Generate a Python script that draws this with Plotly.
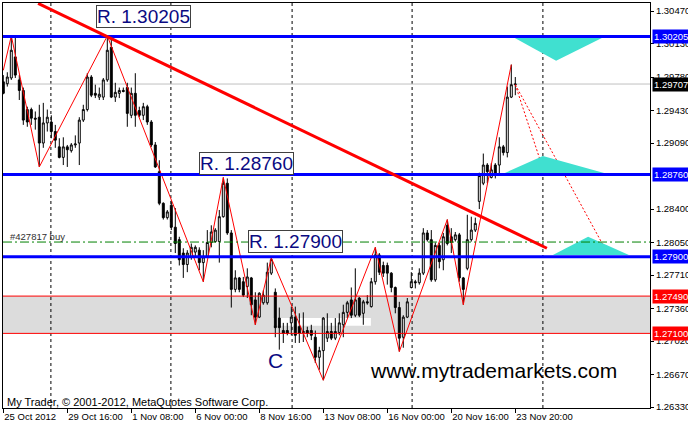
import plotly.graph_objects as go

# ---------------- data ----------------
bars = list(range(129))
open_ = [1.2973, 1.2971, 1.2977, 1.2999, 1.2975, 1.2964, 1.2944, 1.2944, 1.2935, 1.2936,
         1.2909, 1.2930, 1.2931, 1.2921, 1.2905, 1.2894, 1.2905, 1.2901, 1.2907, 1.2909,
         1.2933, 1.2944, 1.2978, 1.2961, 1.2957, 1.2957, 1.2975, 1.3009, 1.2957, 1.2961,
         1.2964, 1.2967, 1.2938, 1.2961, 1.2943, 1.2938, 1.2947, 1.2931, 1.2907, 1.2879,
         1.2846, 1.2831, 1.2844, 1.2821, 1.2808, 1.2794, 1.2782, 1.2790, 1.2795, 1.2797,
         1.2784, 1.2790, 1.2805, 1.2806, 1.2806, 1.2832, 1.2867, 1.2815, 1.2756, 1.2768,
         1.2764, 1.2759, 1.2768, 1.2745, 1.2727, 1.2742, 1.2742, 1.2773, 1.2753, 1.2726,
         1.2713, 1.2713, 1.2721, 1.2727, 1.2717, 1.2712, 1.2713, 1.2713, 1.2706, 1.2685,
         1.2692, 1.2705, 1.2712, 1.2705, 1.2711, 1.2719, 1.2732, 1.2745, 1.2729, 1.2747,
         1.2731, 1.2743, 1.2738, 1.2764, 1.2792, 1.2781, 1.2781, 1.2773, 1.2758, 1.2737,
         1.2706, 1.2727, 1.2758, 1.2764, 1.2763, 1.2773, 1.2815, 1.2808, 1.2766, 1.2802,
         1.2787, 1.2823, 1.2811, 1.2808, 1.2813, 1.2768, 1.2778, 1.2808, 1.2818, 1.2848,
         1.2867, 1.2886, 1.2873, 1.2886, 1.2886, 1.2905, 1.2899, 1.2957, 1.2970]
high = [1.2980, 1.2983, 1.3021, 1.3019, 1.2980, 1.2967, 1.2947, 1.2946, 1.2942, 1.2949,
        1.2951, 1.2944, 1.2938, 1.2928, 1.2914, 1.2915, 1.2907, 1.2909, 1.2917, 1.2936,
        1.2949, 1.2982, 1.2980, 1.2970, 1.2967, 1.2977, 1.3021, 1.3019, 1.2972, 1.2967,
        1.2967, 1.2972, 1.2967, 1.2982, 1.2947, 1.2951, 1.2949, 1.2933, 1.2910, 1.2891,
        1.2847, 1.2839, 1.2849, 1.2841, 1.2811, 1.2799, 1.2797, 1.2804, 1.2802, 1.2800,
        1.2797, 1.2818, 1.2823, 1.2820, 1.2839, 1.2873, 1.2872, 1.2818, 1.2776, 1.2769,
        1.2769, 1.2778, 1.2769, 1.2753, 1.2753, 1.2755, 1.2784, 1.2789, 1.2757, 1.2737,
        1.2721, 1.2721, 1.2738, 1.2738, 1.2731, 1.2732, 1.2717, 1.2719, 1.2713, 1.2696,
        1.2727, 1.2731, 1.2721, 1.2726, 1.2731, 1.2740, 1.2744, 1.2758, 1.2778, 1.2748,
        1.2745, 1.2750, 1.2768, 1.2800, 1.2794, 1.2785, 1.2784, 1.2774, 1.2759, 1.2743,
        1.2729, 1.2747, 1.2774, 1.2766, 1.2778, 1.2820, 1.2818, 1.2818, 1.2805, 1.2805,
        1.2815, 1.2829, 1.2820, 1.2816, 1.2815, 1.2769, 1.2834, 1.2832, 1.2831, 1.2878,
        1.2898, 1.2888, 1.2888, 1.2888, 1.2915, 1.2907, 1.2968, 1.2991, 1.2978]
low = [1.2960, 1.2968, 1.2975, 1.2977, 1.2954, 1.2928, 1.2926, 1.2928, 1.2923, 1.2884,
       1.2904, 1.2921, 1.2914, 1.2904, 1.2893, 1.2886, 1.2884, 1.2899, 1.2904, 1.2886,
       1.2931, 1.2942, 1.2957, 1.2956, 1.2954, 1.2954, 1.2973, 1.2956, 1.2952, 1.2956,
       1.2962, 1.2926, 1.2935, 1.2926, 1.2936, 1.2933, 1.2928, 1.2905, 1.2883, 1.2844,
       1.2829, 1.2829, 1.2818, 1.2794, 1.2781, 1.2768, 1.2774, 1.2787, 1.2789, 1.2776,
       1.2764, 1.2789, 1.2800, 1.2805, 1.2784, 1.2831, 1.2813, 1.2737, 1.2753, 1.2753,
       1.2748, 1.2747, 1.2729, 1.2719, 1.2726, 1.2740, 1.2740, 1.2771, 1.2706, 1.2693,
       1.2700, 1.2708, 1.2708, 1.2700, 1.2700, 1.2701, 1.2706, 1.2703, 1.2679, 1.2672,
       1.2661, 1.2701, 1.2703, 1.2703, 1.2708, 1.2706, 1.2726, 1.2726, 1.2727, 1.2727,
       1.2719, 1.2740, 1.2737, 1.2761, 1.2771, 1.2769, 1.2761, 1.2753, 1.2731, 1.2691,
       1.2695, 1.2726, 1.2757, 1.2757, 1.2761, 1.2771, 1.2806, 1.2764, 1.2764, 1.2778,
       1.2776, 1.2802, 1.2794, 1.2806, 1.2764, 1.2740, 1.2776, 1.2806, 1.2816, 1.2840,
       1.2865, 1.2867, 1.2872, 1.2872, 1.2876, 1.2896, 1.2894, 1.2956, 1.2959]
close = [1.2961, 1.2978, 1.3006, 1.2980, 1.2964, 1.2933, 1.2931, 1.2935, 1.2934, 1.2909,
         1.2930, 1.2936, 1.2921, 1.2912, 1.2894, 1.2905, 1.2902, 1.2907, 1.2908, 1.2933,
         1.2944, 1.2978, 1.2959, 1.2959, 1.2960, 1.2975, 1.3006, 1.2957, 1.2962, 1.2964,
         1.2963, 1.2940, 1.2961, 1.2938, 1.2938, 1.2947, 1.2931, 1.2907, 1.2884, 1.2846,
         1.2831, 1.2837, 1.2821, 1.2804, 1.2787, 1.2782, 1.2794, 1.2800, 1.2800, 1.2784,
         1.2790, 1.2805, 1.2816, 1.2818, 1.2832, 1.2867, 1.2815, 1.2756, 1.2768, 1.2756,
         1.2750, 1.2769, 1.2740, 1.2727, 1.2752, 1.2750, 1.2774, 1.2787, 1.2716, 1.2716,
         1.2710, 1.2710, 1.2727, 1.2708, 1.2710, 1.2711, 1.2710, 1.2708, 1.2685, 1.2692,
         1.2726, 1.2712, 1.2705, 1.2712, 1.2721, 1.2732, 1.2742, 1.2729, 1.2745, 1.2729,
         1.2743, 1.2742, 1.2764, 1.2792, 1.2774, 1.2773, 1.2773, 1.2758, 1.2737, 1.2705,
         1.2727, 1.2743, 1.2764, 1.2763, 1.2773, 1.2815, 1.2808, 1.2766, 1.2802, 1.2785,
         1.2811, 1.2804, 1.2805, 1.2813, 1.2768, 1.2756, 1.2808, 1.2818, 1.2825, 1.2875,
         1.2886, 1.2879, 1.2881, 1.2876, 1.2905, 1.2899, 1.2957, 1.2970, 1.29707]

x_tick_bars = [0, 16, 32, 48, 64, 80, 96, 112, 128]
x_tick_labels = ["25 Oct 2012", "29 Oct 16:00", "1 Nov 08:00", "6 Nov 00:00", "8 Nov 16:00",
                 "13 Nov 08:00", "16 Nov 00:00", "20 Nov 16:00", "23 Nov 20:00"]
y_tick_vals = [1.30470, 1.30130, 1.29780, 1.29430, 1.29090, 1.28400, 1.28050,
               1.27710, 1.27360, 1.27020, 1.26670, 1.26330]

separator_bars = [11.9, 41.9, 72.2, 102.2, 134.9]

resistance_levels = [1.30205, 1.28760, 1.27900]
resistance_labels = ["R. 1.30205", "R. 1.28760", "R. 1.27900"]
zone_levels = [1.27490, 1.27100]
bid_price = 1.29707
order_price = 1.28055
order_label = "#427817 buy"

zigzag_bars = [0, 2, 9, 26, 50, 55, 63, 67, 80, 93, 99, 111, 115, 127]
zigzag_prices = [1.2985, 1.3021, 1.2884, 1.3021, 1.2764, 1.2873, 1.2719, 1.2789,
                 1.2661, 1.2800, 1.2691, 1.2829, 1.2740, 1.2991]

trend_bars = [8.7, 135.9]
trend_prices = [1.3055, 1.2799]

proj_a_bars = [128, 135.4]
proj_a_prices = [1.2970, 1.2876]
proj_b_bars = [128, 150.9]
proj_b_prices = [1.2970, 1.2795]

tri1_bars = [127.2, 150.4, 138.2]
tri1_prices = [1.30205, 1.30205, 1.2995]
tri2_bars = [123.7, 152.9, 134.9]
tri2_prices = [1.28746, 1.28746, 1.28955]
tri3_bars = [137.4, 156.4, 146.2]
tri3_prices = [1.2792, 1.2792, 1.2811]

white_box_bars = [67.5, 91.9]
white_box_prices = [1.27179, 1.27262]

# ---------------- figure ----------------
W, H = 688, 427
ML, MR, MT, MB = 3, 38, 3, 19
PW, PH = W - ML - MR, H - MT - MB
FONT = "Liberation Sans, Arial, sans-serif"


def px(xp):
    return (xp - ML) / PW


def py(yp):
    return (H - MB - yp) / PH


fig = go.Figure()

fig.add_trace(go.Candlestick(
    x=bars, open=open_, high=high, low=low, close=close,
    increasing=dict(line=dict(color="black", width=1), fillcolor="white"),
    decreasing=dict(line=dict(color="black", width=1), fillcolor="black"),
    whiskerwidth=0, hoverinfo="skip", showlegend=False,
))

# zigzag
fig.add_trace(go.Scatter(x=zigzag_bars, y=zigzag_prices, mode="lines",
                         line=dict(color="red", width=1), hoverinfo="skip"))
# projections
for xb, yp in [(proj_a_bars, proj_a_prices), (proj_b_bars, proj_b_prices)]:
    fig.add_trace(go.Scatter(x=xb, y=yp, mode="lines",
                             line=dict(color="red", width=1, dash="2px,2px"), hoverinfo="skip"))
# triangles
for xb, yp in [(tri1_bars, tri1_prices), (tri2_bars, tri2_prices), (tri3_bars, tri3_prices)]:
    fig.add_trace(go.Scatter(x=xb + [xb[0]], y=yp + [yp[0]], mode="lines", fill="toself",
                             fillcolor="#40E0D0", line=dict(width=0, color="#40E0D0"),
                             hoverinfo="skip"))

shapes = []
# grey zone
shapes.append(dict(type="rect", xref="paper", x0=0, x1=1, yref="y",
                   y0=zone_levels[1], y1=zone_levels[0], fillcolor="#DCDCDC",
                   line=dict(width=0), layer="below"))
shapes.append(dict(type="rect", xref="x", x0=white_box_bars[0], x1=white_box_bars[1], yref="y",
                   y0=white_box_prices[0], y1=white_box_prices[1], fillcolor="white",
                   line=dict(width=0), layer="below"))
# separators
for sb in separator_bars:
    shapes.append(dict(type="line", xref="x", x0=sb, x1=sb, yref="paper", y0=0, y1=1,
                       line=dict(color="black", width=1, dash="3px,3px"), layer="below"))
# bid line
shapes.append(dict(type="line", xref="paper", x0=0, x1=1, yref="y", y0=bid_price, y1=bid_price,
                   line=dict(color="#C0C0C0", width=1), layer="below"))
# zone borders
for lv in zone_levels:
    shapes.append(dict(type="line", xref="paper", x0=0, x1=1, yref="y", y0=lv, y1=lv,
                       line=dict(color="red", width=1)))
# order line
shapes.append(dict(type="line", xref="paper", x0=0, x1=1, yref="y", y0=order_price, y1=order_price,
                   line=dict(color="#008000", width=1, dash="9px,3px,2px,3px")))
# resistance lines
for lv in resistance_levels:
    shapes.append(dict(type="line", xref="paper", x0=0, x1=1, yref="y", y0=lv, y1=lv,
                       line=dict(color="#0000FF", width=3)))
# trend line
shapes.append(dict(type="line", xref="x", yref="y", x0=trend_bars[0], y0=trend_prices[0],
                   x1=trend_bars[1], y1=trend_prices[1], line=dict(color="red", width=3)))

annotations = []
# resistance label boxes
for lab, (cx, cy) in zip(resistance_labels, [(143.5, 16), (246.5, 163), (295, 241)]):
    annotations.append(dict(xref="paper", yref="paper", x=px(cx), y=py(cy), text=lab,
                            showarrow=False, xanchor="center", yanchor="middle",
                            font=dict(family=FONT, size=19, color="#0A0A82"),
                            bgcolor="white", bordercolor="#404040", borderwidth=1, borderpad=0))
annotations.append(dict(xref="paper", yref="paper", x=px(275), y=py(360), text="C",
                        showarrow=False, xanchor="center", yanchor="middle",
                        font=dict(family=FONT, size=21, color="#0A0A82")))
annotations.append(dict(xref="paper", yref="paper", x=px(368), y=py(370),
                        text="www.mytrademarkets.com", showarrow=False,
                        xanchor="left", yanchor="middle",
                        font=dict(family=FONT, size=21, color="black")))
annotations.append(dict(xref="paper", yref="paper", x=px(5), y=py(402),
                        text="My Trader, © 2001-2012, MetaQuotes Software Corp.", showarrow=False,
                        xanchor="left", yanchor="middle",
                        font=dict(family=FONT, size=11, color="black")))
annotations.append(dict(xref="paper", yref="y", x=px(8), y=order_price, yshift=6,
                        text=order_label, showarrow=False, xanchor="left", yanchor="middle",
                        font=dict(family=FONT, size=9.5, color="#303030")))
# price-axis highlight labels
for val, bg in [(resistance_levels[0], "#0000FF"), (bid_price, "#000000"),
                (resistance_levels[1], "#0000FF"), (resistance_levels[2], "#0000FF"),
                (zone_levels[0], "#FF0000"), (zone_levels[1], "#FF0000")]:
    annotations.append(dict(xref="paper", yref="y", x=1, y=val, xanchor="left", yanchor="middle",
                            xshift=2, text=f"{val:.5f}", showarrow=False, bgcolor=bg,
                            borderpad=1, font=dict(family=FONT, size=9.5, color="white")))

fig.update_layout(
    width=W, height=H, margin=dict(l=ML, r=MR, t=MT, b=MB, pad=0, autoexpand=False),
    paper_bgcolor="white", plot_bgcolor="white", showlegend=False, hovermode=False,
    shapes=shapes, annotations=annotations,
    font=dict(family=FONT, size=9.5, color="black"),
)
fig.update_xaxes(range=[-0.075, 161.675], showgrid=False, zeroline=False, automargin=False,
                 rangeslider=dict(visible=False),
                 showline=True, mirror=True, linecolor="black", linewidth=1,
                 tickmode="array", tickvals=x_tick_bars, ticktext=x_tick_labels, tickangle=0,
                 ticks="outside", ticklen=4, tickcolor="black", ticklabelposition="outside right",
                 tickfont=dict(family=FONT, size=9.5, color="black"))
fig.update_yaxes(range=[1.26320, 1.30554], side="right", showgrid=False, zeroline=False,
                 automargin=False,
                 showline=True, mirror=True, linecolor="black", linewidth=1,
                 tickmode="array", tickvals=y_tick_vals, tickformat=".5f",
                 ticks="outside", ticklen=3, tickcolor="black",
                 tickfont=dict(family=FONT, size=9.5, color="black"))

fig.write_html("out.html", config={"displayModeBar": False},
               post_script="document.body.style.margin='0';document.body.style.overflow='hidden';")
